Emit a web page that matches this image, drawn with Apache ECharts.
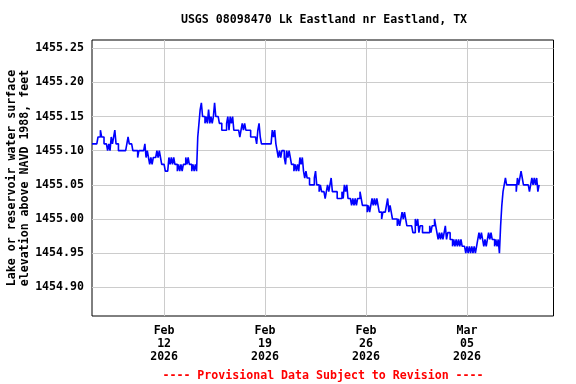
<!DOCTYPE html>
<html><head><meta charset="utf-8">
<script src="https://cdn.jsdelivr.net/npm/echarts@6/dist/echarts.min.js"></script>
<style>html,body{margin:0;padding:0;background:#fff}#c{width:576px;height:384px}</style>
</head><body><div id="c"></div>
<script>
const chartTitle = 'USGS 08098470 Lk Eastland nr Eastland, TX';
const yAxisTitle = ['Lake or reservoir water surface', 'elevation above NAVD 1988, feet'];
const footerText = '---- Provisional Data Subject to Revision ----';
const axisStart = '2026-02-07T00:00:00Z';
const axisEnd = '2026-03-11T00:00:00Z';
const sampleHours = 2;
const xTickDates = ['2026-02-12', '2026-02-19', '2026-02-26', '2026-03-05'];
const yTickValues = [1454.90, 1454.95, 1455.00, 1455.05, 1455.10, 1455.15, 1455.20, 1455.25];
const yMin = 1454.858, yMax = 1455.262, yStep = 0.002;

// gage height, feet, every 2 hours starting at 00:00 of each day
const feb07 = [1455.11,1455.11,1455.11,1455.11,1455.11,1455.12,1455.12,1455.13,1455.12,1455.12,1455.11,1455.11];
const feb08 = [1455.11,1455.10,1455.11,1455.10,1455.12,1455.11,1455.12,1455.13,1455.11,1455.11,1455.10,1455.10];
const feb09 = [1455.10,1455.10,1455.10,1455.10,1455.10,1455.11,1455.12,1455.11,1455.11,1455.11,1455.10,1455.10];
const feb10 = [1455.10,1455.10,1455.09,1455.10,1455.10,1455.10,1455.10,1455.10,1455.11,1455.09,1455.10,1455.09];
const feb11 = [1455.08,1455.09,1455.08,1455.09,1455.09,1455.09,1455.10,1455.09,1455.10,1455.09,1455.08,1455.08];
const feb12 = [1455.08,1455.07,1455.07,1455.07,1455.09,1455.08,1455.09,1455.08,1455.09,1455.08,1455.08,1455.07];
const feb13 = [1455.08,1455.07,1455.08,1455.07,1455.08,1455.08,1455.09,1455.08,1455.09,1455.08,1455.08,1455.07];
const feb14 = [1455.08,1455.07,1455.08,1455.07,1455.12,1455.14,1455.16,1455.17,1455.15,1455.15,1455.14,1455.15];
const feb15 = [1455.14,1455.16,1455.14,1455.15,1455.14,1455.15,1455.17,1455.15,1455.15,1455.15,1455.14,1455.14];
const feb16 = [1455.13,1455.13,1455.13,1455.13,1455.14,1455.15,1455.13,1455.15,1455.14,1455.15,1455.13,1455.13];
const feb17 = [1455.13,1455.13,1455.13,1455.12,1455.13,1455.14,1455.13,1455.14,1455.13,1455.13,1455.13,1455.13];
const feb18 = [1455.12,1455.12,1455.12,1455.12,1455.12,1455.11,1455.13,1455.14,1455.12,1455.11,1455.11,1455.11];
const feb19 = [1455.11,1455.11,1455.11,1455.11,1455.11,1455.11,1455.13,1455.12,1455.13,1455.11,1455.10,1455.09];
const feb20 = [1455.10,1455.09,1455.10,1455.10,1455.09,1455.08,1455.10,1455.09,1455.10,1455.09,1455.08,1455.08];
const feb21 = [1455.07,1455.08,1455.07,1455.08,1455.07,1455.09,1455.08,1455.09,1455.07,1455.06,1455.07,1455.06];
const feb22 = [1455.06,1455.05,1455.05,1455.05,1455.05,1455.06,1455.07,1455.05,1455.05,1455.04,1455.05,1455.04];
const feb23 = [1455.04,1455.04,1455.03,1455.04,1455.05,1455.04,1455.05,1455.06,1455.04,1455.04,1455.04,1455.04];
const feb24 = [1455.03,1455.03,1455.03,1455.03,1455.04,1455.03,1455.05,1455.04,1455.05,1455.03,1455.03,1455.03];
const feb25 = [1455.02,1455.03,1455.02,1455.03,1455.02,1455.03,1455.03,1455.04,1455.03,1455.02,1455.02,1455.02];
const feb26 = [1455.02,1455.01,1455.02,1455.01,1455.02,1455.03,1455.02,1455.03,1455.02,1455.03,1455.02,1455.01];
const feb27 = [1455.01,1455.00,1455.01,1455.01,1455.01,1455.02,1455.03,1455.01,1455.02,1455.01,1455.00,1455.00];
const feb28 = [1455.00,1455.00,1454.99,1455.00,1454.99,1455.00,1455.01,1455.00,1455.01,1455.00,1454.99,1454.99];
const mar01 = [1454.99,1454.99,1454.99,1454.98,1454.98,1455.00,1454.99,1455.00,1454.98,1454.99,1454.99,1454.98];
const mar02 = [1454.98,1454.98,1454.98,1454.98,1454.98,1454.99,1454.98,1454.99,1454.99,1455.00,1454.99,1454.98];
const mar03 = [1454.97,1454.98,1454.97,1454.98,1454.97,1454.98,1454.99,1454.97,1454.98,1454.98,1454.97,1454.97];
const mar04 = [1454.96,1454.97,1454.96,1454.97,1454.96,1454.97,1454.96,1454.97,1454.96,1454.96,1454.96,1454.95];
const mar05 = [1454.96,1454.95,1454.96,1454.95,1454.96,1454.95,1454.96,1454.95,1454.96,1454.97,1454.98,1454.97];
const mar06 = [1454.98,1454.97,1454.96,1454.97,1454.96,1454.97,1454.98,1454.97,1454.98,1454.97,1454.97,1454.96];
const mar07 = [1454.97,1454.96,1454.97,1454.95,1454.99,1455.02,1455.04,1455.05,1455.06,1455.05,1455.05,1455.05];
const mar08 = [1455.05,1455.05,1455.05,1455.05,1455.05,1455.04,1455.06,1455.05,1455.06,1455.07,1455.06,1455.05];
const mar09 = [1455.05,1455.05,1455.05,1455.05,1455.04,1455.05,1455.06,1455.05,1455.06,1455.05,1455.06,1455.04];
const mar10 = [1455.05];

const dailySeries = [feb07,feb08,feb09,feb10,feb11,feb12,feb13,feb14,feb15,feb16,feb17,feb18,feb19,feb20,feb21,feb22,feb23,feb24,feb25,feb26,feb27,feb28,mar01,mar02,mar03,mar04,mar05,mar06,mar07,mar08,mar09,mar10];

const DAY = 86400000;
const t0 = Date.parse(axisStart);
const t1 = Date.parse(axisEnd);
const points = [];
dailySeries.forEach((vals, d) => {
  vals.forEach((v, k) => points.push([t0 + d * DAY + k * sampleHours * 3600000, v]));
});

const tickMs = xTickDates.map(s => Date.parse(s + 'T00:00:00Z'));
const nX = Math.round((t1 - t0) / DAY) + 1;
const xColors = [];
for (let i = 0; i < nX; i++) xColors.push(tickMs.includes(t0 + i * DAY) ? '#cccccc' : 'rgba(0,0,0,0)');
const nY = Math.round((yMax - yMin) / yStep) + 1;
const yTickKeys = yTickValues.map(v => Math.round(v * 1000));
const yColors = [];
for (let i = 0; i < nY; i++) yColors.push(yTickKeys.includes(Math.round(yMin * 1000) + i * 2) ? '#cccccc' : 'rgba(0,0,0,0)');

const MON = ['Jan','Feb','Mar','Apr','May','Jun','Jul','Aug','Sep','Oct','Nov','Dec'];
const FONT = 'DejaVu Sans Mono';
const fs = 11.6;

const chart = echarts.init(document.getElementById('c'), null, {renderer: 'canvas'});
chart.setOption({
  animation: false,
  backgroundColor: '#fff',
  title: [
    {text: chartTitle, left: 319, top: 9, textAlign: 'center',
     textStyle: {fontFamily: FONT, fontSize: fs, fontWeight: 'bold', color: '#000'}},
    {text: footerText, left: 318, top: 365, textAlign: 'center',
     textStyle: {fontFamily: FONT, fontSize: fs, fontWeight: 'bold', color: '#ff0000'}}
  ],
  grid: {left: 92, right: 22.5, top: 40, bottom: 68, show: true, borderColor: '#000', borderWidth: 1,
         containLabel: false, outerBoundsMode: 'none'},
  xAxis: {
    type: 'value', min: t0, max: t1, interval: DAY,
    axisLine: {show: false}, axisTick: {show: false},
    splitLine: {show: true, lineStyle: {color: xColors, width: 1}},
    axisLabel: {
      margin: 8, lineHeight: 13, fontFamily: FONT, fontSize: fs, fontWeight: 'bold', color: '#000',
      formatter: v => {
        if (!tickMs.includes(v)) return '';
        const d = new Date(v);
        return MON[d.getUTCMonth()] + '\n' + String(d.getUTCDate()).padStart(2, '0') + '\n' + d.getUTCFullYear();
      }
    }
  },
  yAxis: {
    type: 'value', min: yMin, max: yMax, interval: yStep,
    name: yAxisTitle.join('\n'), nameLocation: 'middle', nameRotate: 90, nameGap: 61, nameMoveOverlap: false,
    nameTextStyle: {fontFamily: FONT, fontSize: fs, fontWeight: 'bold', color: '#000', lineHeight: 12.5, align: 'center'},
    axisLine: {show: false}, axisTick: {show: false},
    splitLine: {show: true, lineStyle: {color: yColors, width: 1}},
    axisLabel: {
      margin: 8, fontFamily: FONT, fontSize: fs, fontWeight: 'bold', color: '#000',
      formatter: v => yTickKeys.includes(Math.round(v * 1000)) ? v.toFixed(2) : ''
    }
  },
  series: [{
    type: 'line', step: 'end', data: points, showSymbol: false, symbol: 'none',
    lineStyle: {color: '#0000ff', width: 1.6}, silent: true, z: 3
  }]
});
</script>
</body></html>
